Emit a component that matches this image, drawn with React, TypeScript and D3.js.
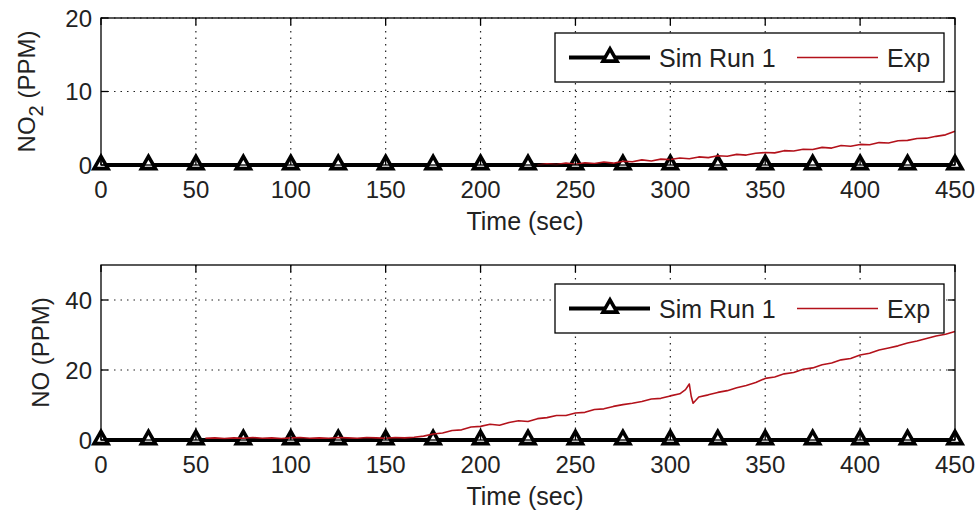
import React from "react";
import * as d3 from "d3";

const timeTicks = [0, 50, 100, 150, 200, 250, 300, 350, 400, 450];
const simTimes = [0, 25, 50, 75, 100, 125, 150, 175, 200, 225, 250, 275, 300, 325, 350, 375, 400, 425, 450];
const simNO2 = simTimes.map(() => 0);
const simNO = simTimes.map(() => 0);

const no2Ticks = [0, 10, 20];
const noTicks = [0, 20, 40];

const expNO2Time = [230, 235, 240, 245, 250, 255, 260, 265, 270, 275, 280, 285, 290, 295, 300, 305, 310, 315, 320, 325, 330, 335, 340, 345, 350, 355, 360, 365, 370, 375, 380, 385, 390, 395, 400, 405, 410, 415, 420, 425, 430, 435, 440, 445, 450];
const expNO2 = [0.0, 0.15, 0.05, 0.25, 0.1, 0.3, 0.2, 0.4, 0.25, 0.5, 0.45, 0.7, 0.55, 0.8, 0.75, 0.95, 0.85, 1.1, 1.0, 1.25, 1.2, 1.45, 1.35, 1.6, 1.7, 1.65, 1.95, 1.9, 2.15, 2.1, 2.4, 2.3, 2.65, 2.55, 2.8, 2.75, 3.05, 3.0, 3.3, 3.35, 3.6, 3.65, 3.9, 4.1, 4.6];

const expNOTime = [55, 60, 65, 70, 75, 80, 85, 90, 95, 100, 105, 110, 115, 120, 125, 130, 135, 140, 145, 150, 155, 160, 165, 170, 175, 180, 185, 190, 195, 200, 205, 210, 215, 220, 225, 230, 235, 240, 245, 250, 255, 260, 265, 270, 275, 280, 285, 290, 295, 300, 305, 308, 310, 311, 312, 315, 320, 325, 330, 335, 340, 345, 350, 355, 360, 365, 370, 375, 380, 385, 390, 395, 400, 405, 410, 415, 420, 425, 430, 435, 440, 445, 450];
const expNO = [0.5, 0.6, 0.4, 0.6, 0.5, 0.7, 0.5, 0.6, 0.4, 0.6, 0.7, 0.5, 0.6, 0.5, 0.7, 0.6, 0.5, 0.7, 0.6, 0.5, 0.7, 0.6, 0.8, 1.1, 1.7, 2.0, 2.7, 2.9, 3.7, 3.9, 4.5, 4.2, 5.0, 5.5, 5.3, 6.1, 6.4, 7.0, 7.0, 7.7, 7.9, 8.7, 8.9, 9.6, 10.1, 10.5, 11.0, 11.7, 11.9, 12.6, 13.2, 14.4, 16.0, 12.5, 10.5, 12.3, 12.9, 13.6, 14.1, 14.9, 15.6, 16.4, 17.6, 18.0, 18.9, 19.3, 20.2, 20.6, 21.5, 22.0, 22.9, 23.3, 24.3, 24.8, 25.7, 26.3, 26.9, 27.7, 28.3, 29.0, 29.7, 30.2, 31.0];

const W = 979;
const H = 516;
const FONT = "'Liberation Sans', Arial, sans-serif";
const RED = "#b3121b";

type PanelProps = {
  top: number;
  bottom: number;
  yMax: number;
  yTicks: number[];
  simY: number[];
  expT: number[];
  expY: number[];
  legendTop: number;
  ylabel: React.ReactNode;
  ylabelX: number;
};

function Triangle({ cx, cy, size }: { cx: number; cy: number; size: number }) {
  const h = size * 0.8;
  const p = `M${cx},${cy - h / 2 - 1} L${cx + size / 2},${cy + h / 2} L${cx - size / 2},${cy + h / 2} Z`;
  return <path d={p} fill="white" stroke="black" strokeWidth={3.6} strokeLinejoin="miter" />;
}

function Panel(props: PanelProps) {
  const { top, bottom, yMax, yTicks, simY, expT, expY, legendTop, ylabel, ylabelX } = props;
  const left = 101;
  const right = 955;
  const x = d3.scaleLinear().domain([0, 450]).range([left, right]);
  const y = d3.scaleLinear().domain([0, yMax]).range([bottom, top]);
  const line = d3.line<[number, number]>().x((d) => x(d[0])).y((d) => y(d[1]));
  const expPts: [number, number][] = expT.map((t, i) => [t, expY[i]]);
  const simPts: [number, number][] = simTimes.map((t, i) => [t, simY[i]]);
  const tickLen = 7;
  const lgLeft = 555;
  const lgRight = 944;
  const lgH = 49;
  const lgMid = legendTop + lgH / 2;
  return (
    <g>
      {timeTicks.slice(1, -1).map((t) => (
        <line key={"gx" + t} x1={x(t)} x2={x(t)} y1={top} y2={bottom} stroke="#222" strokeWidth={1.2} strokeDasharray="1.5,5" />
      ))}
      {yTicks.slice(1).map((v) => (
        <line key={"gy" + v} x1={left} x2={right} y1={y(v)} y2={y(v)} stroke="#222" strokeWidth={1.2} strokeDasharray="1.5,5" />
      ))}
      <path d={line(simPts) || ""} fill="none" stroke="black" strokeWidth={4} />
      {simPts.map((p, i) => (
        <Triangle key={"m" + i} cx={x(p[0])} cy={y(p[1]) - 2} size={14} />
      ))}
      <path d={line(expPts) || ""} fill="none" stroke={RED} strokeWidth={1.6} strokeLinejoin="round" />
      <rect x={left} y={top} width={right - left} height={bottom - top} fill="none" stroke="black" strokeWidth={1.3} />
      {timeTicks.map((t) => (
        <g key={"tx" + t}>
          <line x1={x(t)} x2={x(t)} y1={bottom} y2={bottom - tickLen} stroke="black" strokeWidth={1.3} />
          <line x1={x(t)} x2={x(t)} y1={top} y2={top + tickLen} stroke="black" strokeWidth={1.3} />
          <text x={x(t)} y={bottom + 33} textAnchor="middle" fontSize={24} fontFamily={FONT} fill="#222">
            {t}
          </text>
        </g>
      ))}
      {yTicks.map((v) => (
        <g key={"ty" + v}>
          <line x1={left} x2={left + tickLen} y1={y(v)} y2={y(v)} stroke="black" strokeWidth={1.3} />
          <line x1={right} x2={right - tickLen} y1={y(v)} y2={y(v)} stroke="black" strokeWidth={1.3} />
          <text x={left - 9} y={y(v) + 8.5} textAnchor="end" fontSize={24} fontFamily={FONT} fill="#222">
            {v}
          </text>
        </g>
      ))}
      <text x={(left + right) / 2 - 3} y={bottom + 65} textAnchor="middle" fontSize={25} fontFamily={FONT} fill="#222">
        Time (sec)
      </text>
      <text
        transform={`translate(${ylabelX},${(top + bottom) / 2}) rotate(-90)`}
        textAnchor="middle"
        fontSize={24}
        fontFamily={FONT}
        fill="#222"
      >
        {ylabel}
      </text>
      <rect x={lgLeft} y={legendTop} width={lgRight - lgLeft} height={lgH} fill="white" stroke="black" strokeWidth={1.3} />
      <line x1={569} x2={650} y1={lgMid} y2={lgMid} stroke="black" strokeWidth={4} />
      <Triangle cx={610} cy={lgMid - 2} size={14} />
      <text x={659} y={lgMid + 9} fontSize={25} fontFamily={FONT} fill="#222">
        Sim Run 1
      </text>
      <line x1={797} x2={878} y1={lgMid} y2={lgMid} stroke={RED} strokeWidth={1.3} />
      <text x={887} y={lgMid + 9} fontSize={25} fontFamily={FONT} fill="#222">
        Exp
      </text>
    </g>
  );
}

export default function App() {
  return (
    <svg width={W} height={H} style={{ position: "absolute", left: 0, top: 0, background: "white" }}>
      <rect x={0} y={0} width={W} height={H} fill="white" />
      <Panel
        top={18}
        bottom={165}
        yMax={20}
        yTicks={no2Ticks}
        simY={simNO2}
        expT={expNO2Time}
        expY={expNO2}
        legendTop={33}
        ylabelX={35}
        ylabel={
          <>
            NO<tspan dy={8} fontSize={20}>2</tspan>
            <tspan dy={-8}> (PPM)</tspan>
          </>
        }
      />
      <Panel
        top={265}
        bottom={440}
        yMax={50}
        yTicks={noTicks}
        simY={simNO}
        expT={expNOTime}
        expY={expNO}
        legendTop={284}
        ylabelX={49}
        ylabel={"NO (PPM)"}
      />
    </svg>
  );
}
